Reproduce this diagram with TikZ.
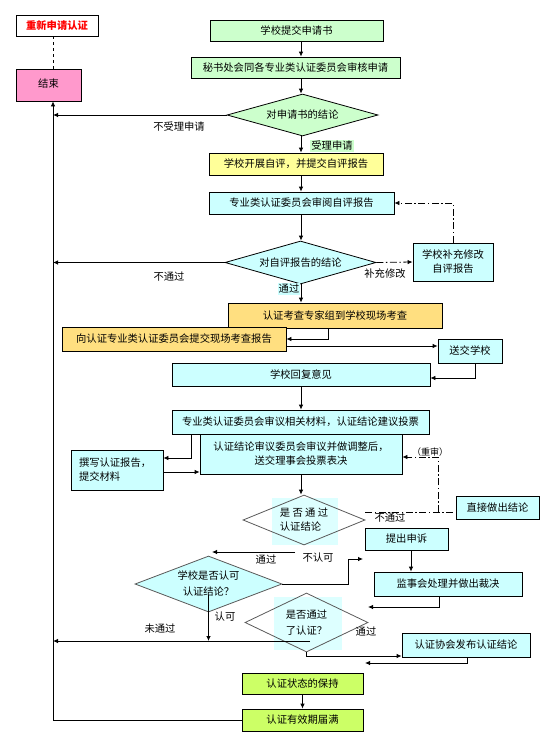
\documentclass[tikz,border=0pt]{standalone}
\usepackage{fontspec}
\setmainfont{Noto Sans CJK SC}
\usetikzlibrary{arrows.meta,shapes.geometric}
\definecolor{boxgreen}{HTML}{CCFFCC}
\definecolor{boxyellow}{HTML}{FFFF99}
\definecolor{boxcyan}{HTML}{CCFFFF}
\definecolor{boxgold}{HTML}{FFDF80}
\definecolor{boxpink}{HTML}{FF99CC}
\definecolor{boxlime}{HTML}{CCFF66}
\definecolor{shadecyan}{HTML}{DDFFFF}
\tikzstyle{block} = [rectangle, draw, line width=0.8pt, inner sep=0pt, align=center, font=\fontsize{10.3}{14}\selectfont]
\tikzstyle{decision} = [diamond, draw, line width=0.8pt, inner sep=0pt, align=center, font=\fontsize{10.3}{15}\selectfont]
\tikzstyle{tag} = [inner sep=1pt, font=\fontsize{10.3}{12}\selectfont]
\tikzset{edge/.style = {
    line width=0.8pt,
    -{Latex[length=5pt,width=4.5pt]},
  },
  feedback/.style = {dash pattern=on 7pt off 2.5pt on 1.5pt off 2.5pt}
}

\begin{document}
\begin{tikzpicture}[x=1pt,y=-1pt]
            \useasboundingbox (0,0) rectangle (552,739);
            % shading behind two decisions
            \fill[shadecyan] (272,498) rectangle (338,545);
            \fill[shadecyan] (274,597) rectangle (342,650);

            % vertices
            \node[block, text=red, font=\bfseries\fontsize{10.3}{12}\selectfont, minimum width=82pt, minimum height=21pt] (redo) at (57,25.5) {重新申请认证};
            \node[block, fill=boxpink, minimum width=65pt, minimum height=32pt] (jieshu) at (48.5,85) {\raisebox{3pt}{结束}};
            \node[block, fill=boxgreen, minimum width=173pt, minimum height=21pt] (submit) at (296.5,30.5) {学校提交申请书};
            \node[block, fill=boxgreen, minimum width=209pt, minimum height=21pt] (check) at (295.5,67.5) {秘书处会同各专业类认证委员会审核申请};
            \node[decision, fill=boxgreen, aspect=3.6, minimum width=151pt, minimum height=42pt] (d1) at (302.5,115) {对申请书的结论};
            \node[block, fill=boxyellow, minimum width=174pt, minimum height=22pt] (selfeval) at (296,164) {学校开展自评，并提交自评报告};
            \node[block, fill=boxcyan, minimum width=185pt, minimum height=22pt] (readrep) at (301.5,203) {专业类认证委员会审阅自评报告};
            \node[decision, fill=boxcyan, aspect=3.5, minimum width=151pt, minimum height=43pt] (d2) at (300.5,262.5) {对自评报告的结论};
            \node[block, fill=boxcyan, minimum width=80pt, minimum height=38pt] (amend) at (453,262) {学校补充修改\\自评报告};
            \node[block, fill=boxgold, minimum width=214pt, minimum height=25pt] (visit) at (335,315.5) {认证考查专家组到学校现场考查};
            \node[block, fill=boxgold, minimum width=224pt, minimum height=24pt] (visitrep) at (174,339) {向认证专业类认证委员会提交现场考查报告};
            \node[block, fill=boxcyan, minimum width=64pt, minimum height=24pt] (sendback) at (470,351) {送交学校};
            \node[block, fill=boxcyan, minimum width=258pt, minimum height=23pt] (reply) at (301,374.5) {学校回复意见};
            \node[block, fill=boxcyan, minimum width=257pt, minimum height=24pt] (deliberate) at (300.5,422) {专业类认证委员会审议相关材料，认证结论建议投票};
            \node[block, fill=boxcyan, minimum width=202pt, minimum height=40pt] (adjust) at (301,454) {认证结论审议委员会审议并做调整后，\\送交理事会投票表决};
            \node[block, fill=boxcyan, minimum width=92pt, minimum height=40pt, text width=76pt, align=left] (writerep) at (117,470) {撰写认证报告，\\提交材料};
            \node[decision, draw=black!65, aspect=2.44, minimum width=122pt, minimum height=50pt, align=left, font=\fontsize{10.3}{14}\selectfont] (d3) at (304,520) {是 否 通 过\\认证结论};
            \node[block, fill=boxcyan, minimum width=83pt, minimum height=23pt] (direct) at (497.5,507.5) {直接做出结论};
            \node[block, fill=boxcyan, minimum width=83pt, minimum height=22pt] (appealbox) at (406.5,539) {提出申诉};
            \node[block, fill=boxcyan, minimum width=148pt, minimum height=24pt] (arbit) at (448,584) {监事会处理并做出裁决};
            \node[decision, draw=black!65, fill=boxcyan, aspect=2.62, minimum width=147pt, minimum height=56pt, font=\fontsize{10.3}{16}\selectfont] (d4) at (208.5,584) {学校是否认可\\认证结论？};
            \node[decision, draw=black!65, aspect=2.08, minimum width=123pt, minimum height=59pt, font=\fontsize{10.3}{16}\selectfont] (d5) at (306.5,622.5) {是否通过\\了认证？};
            \node[block, fill=boxcyan, minimum width=128pt, minimum height=24pt] (publish) at (466,645) {认证协会发布认证结论};
            \node[block, fill=boxlime, minimum width=121pt, minimum height=21pt] (keep) at (302.5,683.5) {认证状态的保持};
            \node[block, fill=boxlime, minimum width=121pt, minimum height=22pt] (expire) at (302.5,720) {认证有效期届满};

            % loose ends
            \coordinate (mainline) at (53,720);
            \coordinate (col) at (301,0);
            \coordinate (pass3) at (295,552);
            \coordinate (pass3end) at (212,552);
            \coordinate (appeal) at (363,559);
            \coordinate (supback) at (368,607);
            \coordinate (pubback) at (365,663);
            \coordinate (fail5) at (310,641);
            \coordinate (rejoin) at (438,512);

            %edges
            \draw[edge] (submit.south -| col) -- (check.north -| col);
            \draw[edge] (check.south -| col) -- (d1.north -| col);
            \draw[edge] (d1.south -| col) -- (selfeval.north -| col);
            \draw[edge] (d1.west) -- (d1.west -| mainline);
            \draw[edge] (selfeval.south -| col) -- (readrep.north -| col);
            \draw[edge] (readrep.south -| col) -- (d2.north -| col);
            \draw[edge] (d2.west) -- (d2.west -| mainline);
            \draw[edge] (d2.south -| col) -- (visit.north -| col);
            \draw[edge] ([xshift=-7pt]visit.south) |- (visitrep.east);
            \draw[edge] ([yshift=-7pt]visitrep.east) -- ([yshift=5pt]sendback.west);
            \draw[edge] ([xshift=5pt]sendback.south) |- ([yshift=-3.5pt]reply.east);
            \draw[edge] (reply.south -| col) -- (deliberate.north -| col);
            \draw[edge] ([xshift=-109.5pt]deliberate.south) |- ([yshift=12pt]writerep.east);
            \draw[edge] ([yshift=-2pt]writerep.east) -- ([yshift=-18pt]adjust.west);
            \draw[edge] (adjust.south -| col) -- (d3.north -| col);
            \draw[edge] (pass3) -- (pass3end);
            \draw[edge] (d4.east) -- ++(66,0) |- (appeal);
            \draw[edge] ([yshift=-11pt]d4.center) -- (d4.center |- fail5);
            \draw[edge] (fail5) -- (fail5 -| mainline);
            \draw[edge] ([xshift=4.5pt]appealbox.south) -- ([xshift=-37pt]arbit.north);
            \draw[edge] ([xshift=-9pt]arbit.south) |- (supback);
            \draw[edge] (d5.south) |- ([yshift=-11pt]publish.west);
            \draw[edge] ([xshift=1pt]publish.south) |- (pubback);
            \draw[edge] (keep) -- (expire);
            \draw[edge] (expire.west) -- (mainline) -- (mainline |- jieshu.south);
            \draw[dashed, line width=0.8pt] (redo.south -| mainline) -- (jieshu.north -| mainline);

            %feedback lines
            \draw[edge, feedback] (d2.east) -- (amend.west);
            \draw[edge, feedback] (amend.north) |- (readrep.east);
            \draw[feedback, line width=0.8pt] ([yshift=8pt]d3.east) -- ([yshift=-4.5pt]direct.west);
            \draw[edge, feedback] (rejoin) |- ([yshift=-3pt]adjust.east);

            % labels
            \node[tag] (l1) at (179,127) {不受理申请};
            \node[tag, fill=boxgreen] (l2) at (332,146) {受理申请};
            \node[tag] (l3) at (169,277) {不通过};
            \node[tag, fill=boxcyan] (l4) at (289,289) {通过};
            \node[tag] (l5) at (385,274) {补充修改};
            \node[tag, font=\fontsize{9}{10}\selectfont] (l6) at (430,452) {（重审）};
            \node[tag] (l7) at (390,518) {不通过};
            \node[tag] (l8) at (266,560) {通过};
            \node[tag, fill=white] (l9) at (318,558) {不认可};
            \node[tag] (l10) at (225,617) {认可};
            \node[tag] (l11) at (160,629) {未通过};
            \node[tag] (l12) at (366,632) {通过};
\end{tikzpicture}
\end{document}
